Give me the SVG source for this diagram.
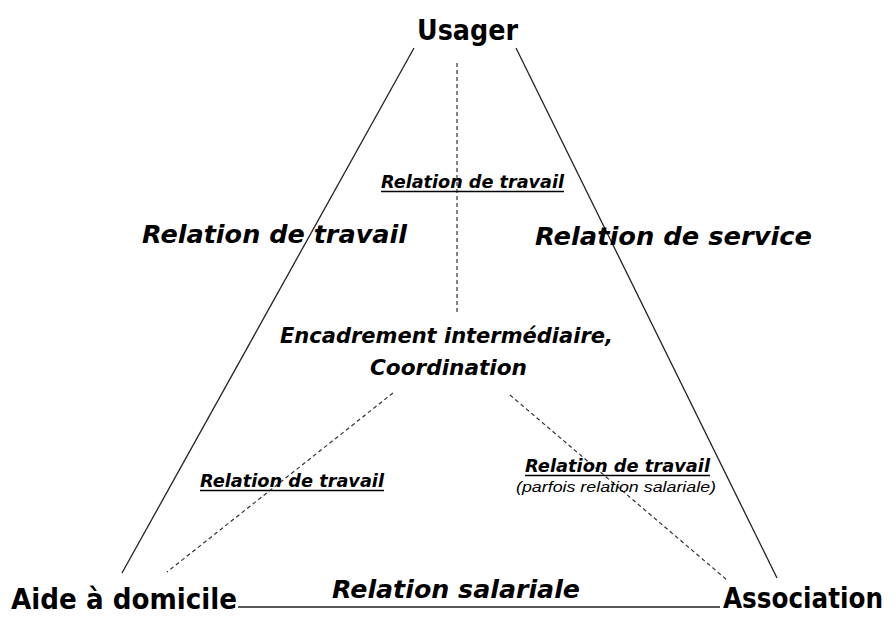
<svg xmlns="http://www.w3.org/2000/svg" width="896" height="619" viewBox="0 0 896 619">
<style>
.node{font-family:"DejaVu Sans","Liberation Sans",sans-serif;font-weight:bold;font-size:28px;fill:#000}
.lbl{font-family:"DejaVu Sans","Liberation Sans",sans-serif;font-weight:bold;font-style:italic;fill:#000}
.note{font-family:"Liberation Sans",Arial,sans-serif;font-style:italic;font-size:14px;fill:#000}
.solid{stroke:#222;stroke-width:1.3;fill:none}
.dash{stroke:#333;stroke-width:1.2;stroke-dasharray:4 3;fill:none}
.ul{stroke:#000;stroke-width:1.5}
</style>
<rect width="896" height="619" fill="#fff"/>
<g id="connectors">
<line class="solid" x1="414" y1="48" x2="122" y2="573"/>
<line class="solid" x1="516" y1="48" x2="777" y2="578"/>
<line class="solid" x1="238" y1="607" x2="720" y2="607"/>
<line class="dash" x1="457" y1="63" x2="457" y2="312"/>
<line class="dash" x1="393" y1="393" x2="167" y2="572"/>
<line class="dash" x1="510" y1="395" x2="727" y2="580"/>
</g>
<g id="usager"><text class="node" x="417" y="40" textLength="101" lengthAdjust="spacingAndGlyphs">Usager</text></g>
<g id="aide"><text class="node" font-size="27" x="11" y="609" textLength="226" lengthAdjust="spacingAndGlyphs">Aide à domicile</text></g>
<g id="association"><text class="node" font-size="24" x="723" y="608" textLength="160" lengthAdjust="spacingAndGlyphs">Association</text></g>
<g id="encadrement">
<text class="lbl" font-size="22" x="280" y="343" textLength="333" lengthAdjust="spacingAndGlyphs">Encadrement intermédiaire,</text>
<text class="lbl" font-size="22" x="370" y="375" textLength="157" lengthAdjust="spacingAndGlyphs">Coordination</text>
</g>
<g id="labels">
<text class="lbl" font-size="18" x="381" y="188" textLength="183" lengthAdjust="spacingAndGlyphs">Relation de travail</text>
<line class="ul" x1="381" y1="191.5" x2="564" y2="191.5"/>
<text class="lbl" font-size="25" x="142" y="243" textLength="265" lengthAdjust="spacingAndGlyphs">Relation de travail</text>
<text class="lbl" font-size="25" x="535" y="245" textLength="277" lengthAdjust="spacingAndGlyphs">Relation de service</text>
<text class="lbl" font-size="18" x="200" y="487" textLength="184" lengthAdjust="spacingAndGlyphs">Relation de travail</text>
<line class="ul" x1="200" y1="490.5" x2="384" y2="490.5"/>
<text class="lbl" font-size="18" x="525" y="472" textLength="185" lengthAdjust="spacingAndGlyphs">Relation de travail</text>
<line class="ul" x1="525" y1="475.5" x2="710" y2="475.5"/>
<text class="note" x="516" y="492" textLength="200" lengthAdjust="spacingAndGlyphs">(parfois relation salariale)</text>
<text class="lbl" font-size="24" x="332" y="598" textLength="248" lengthAdjust="spacingAndGlyphs">Relation salariale</text>
</g>
</svg>
